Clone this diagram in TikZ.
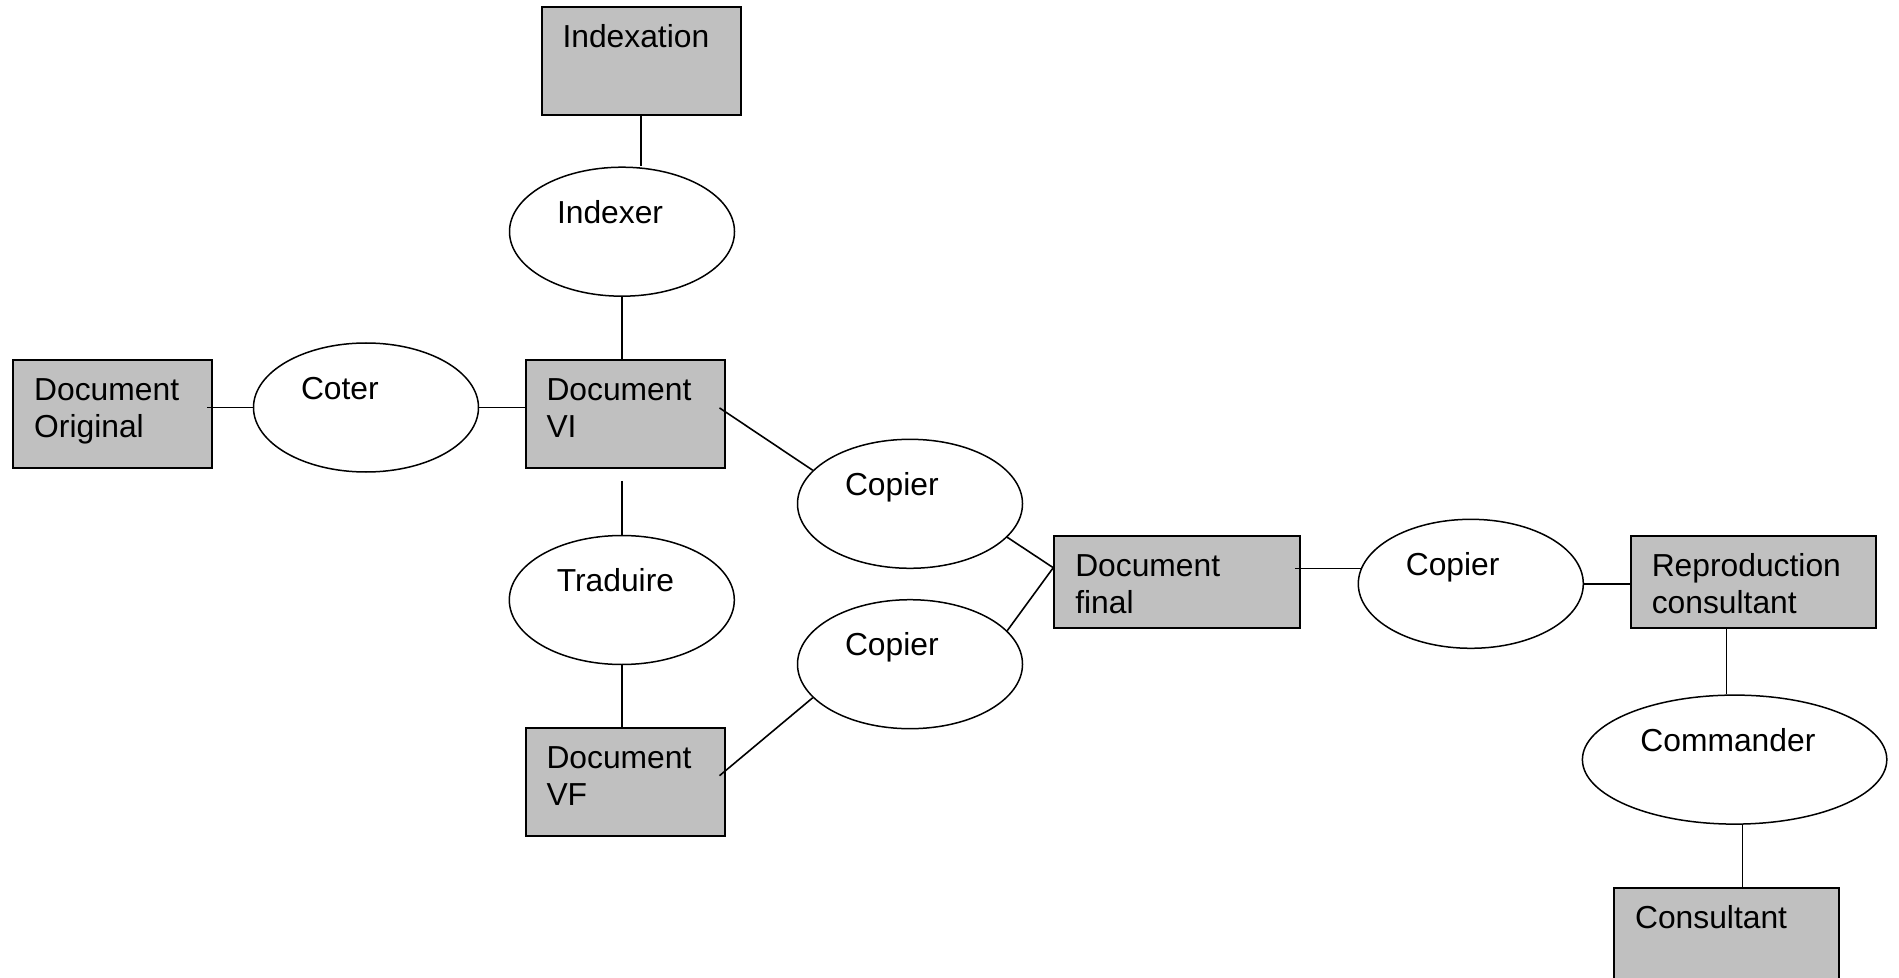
\documentclass[tikz,border=0pt]{standalone}
\usepackage{fontspec}
\setmainfont{Liberation Sans}
\usepackage{tikz}
\usetikzlibrary{shapes.geometric}
\definecolor{boxgray}{RGB}{192,192,192}
\tikzstyle{entity}=[draw, line width=1pt, fill=boxgray, align=left, inner xsep=10.5pt, inner ysep=0pt, text height=20.25pt, text width=78.5pt, text depth=33.75pt]
\tikzstyle{action}=[draw, ellipse, line width=0.75pt, align=left, inner sep=0pt, minimum width=112.5pt, minimum height=64.5pt, text width=65pt, text height=11pt, text depth=19.3pt]
\tikzstyle{link}=[draw, line width=0.8pt]

\begin{document}
\begin{tikzpicture}[x=0.5pt, y=-0.5pt, font=\fontsize{15.9pt}{18.4pt}\selectfont]
\useasboundingbox (0,0) rectangle (1899,978);
% the boxes
\node[entity] (indexation) at (641,61.5) {Indexation};
\node[entity] (orig) at (112.7,413.9) {Document\\Original};
\node[entity] (vi) at (625,413.9) {Document\\VI};
\node[entity] (vf) at (625,781.7) {Document\\VF};
\node[entity, text width=101.75pt, text depth=25.75pt] (final) at (1177,581.7) {Document\\final};
\node[entity, text width=101.75pt, text depth=25.75pt] (repro) at (1753.5,581.7) {Reproduction\\consultant};
\node[entity, text width=91.35pt] (consultant) at (1726.4,941.7) {Consultant};
% the ellipses
\node[action] (indexer) at (622,231.7) {Indexer};
\node[action] (coter) at (366,407.5) {Coter};
\node[action] (copier1) at (910,503.8) {Copier};
\node[action] (traduire) at (621.8,600) {Traduire};
\node[action] (copier2) at (910,664.2) {Copier};
\node[action] (copier3) at (1470.8,583.8) {Copier};
\node[action, minimum width=152.2pt, text width=94.2pt] (commander) at (1734.6,759.6) {Commander};
% the links
\path[link] (indexation.south) -- (indexation.south |- indexer.north);
\path[link] (indexer.south) -- (indexer.south |- vi.north);
\path[link] ([xshift=-3pt]orig.east |- coter.west) -- (coter.west);
\path[link] (coter.east) -- (coter.east -| vi.west);
\path[link] ([shift={(-3pt,3pt)}]vi.east) -- (copier1.161);
\path[link] ([yshift=-6pt]traduire.north |- vi.south) -- (traduire.north);
\path[link] (traduire.south) -- (traduire.south |- vf.north);
\path[link] ([shift={(-3pt,3pt)}]vf.east) -- (copier2.199);
\path[link] (copier1.341) -- ([yshift=7pt]final.west);
\path[link] (copier2.19) -- ([yshift=7pt]final.west);
\path[link] ([xshift=-3pt]final.east |- copier3.172) -- (copier3.172);
\path[link] (copier3.east) -- (copier3.east -| repro.west);
\path[link] ([xshift=-4pt]commander.north) -- ([xshift=-4pt]commander.north |- repro.south);
\path[link] ([xshift=4pt]commander.south) -- ([xshift=4pt]commander.south |- consultant.north);
\end{tikzpicture}
\end{document}
